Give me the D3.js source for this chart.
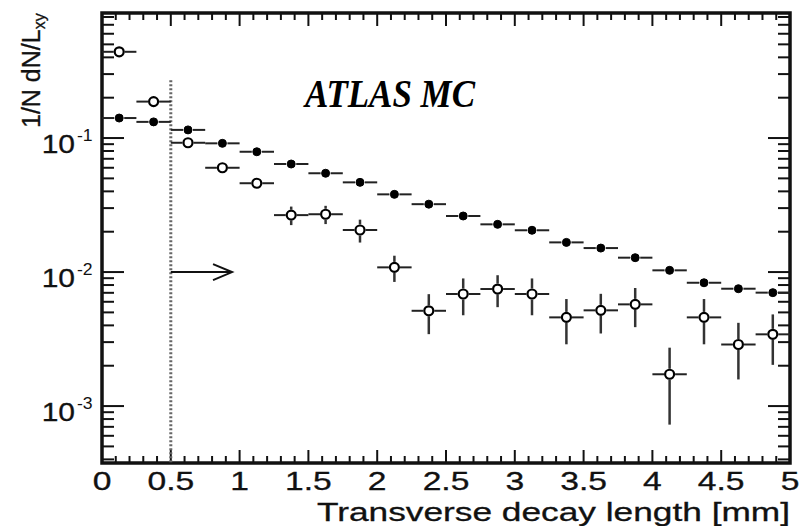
<!DOCTYPE html>
<html><head><meta charset="utf-8">
<script src="https://cdn.jsdelivr.net/npm/d3@7"></script>
<style>html,body{margin:0;padding:0;background:#fff;}svg{display:block;}</style>
</head><body>
<svg id="c" width="801" height="526"></svg>
<script>
// ---- data ----
const binCenters = [0.125,0.375,0.625,0.875,1.125,1.375,1.625,1.875,2.125,2.375,2.625,2.875,3.125,3.375,3.625,3.875,4.125,4.375,4.625,4.875];
const binHalfWidth = 0.125;
const filledVals = [0.141,0.132,0.115,0.0913,0.079,0.064,0.0546,0.0467,0.038,0.0321,0.0262,0.0227,0.0205,0.01665,0.0151,0.0128,0.0103,0.00832,0.00751,0.00702];
const filledErr  = [0.002,0.002,0.0018,0.0016,0.0015,0.0013,0.0012,0.0011,0.001,0.0009,0.0008,0.0008,0.0007,0.0007,0.0006,0.0006,0.0005,0.0005,0.0005,0.0005];
const openVals = [0.44,0.187,0.0922,0.060,0.046,0.0266,0.027,0.0206,0.01084,0.00514,0.00686,0.00747,0.00686,0.00459,0.00518,0.00574,0.001727,0.00459,0.00288,0.00343];
const openErr  = [0.008,0.005,0.004,0.004,0.004,0.0042,0.0042,0.004,0.0024,0.0017,0.0021,0.002,0.0021,0.0017,0.0017,0.00186,0.001,0.0017,0.0013,0.0014];
const xTickValues = [0,0.5,1,1.5,2,2.5,3,3.5,4,4.5,5];
const xTickLabels = ["0","0.5","1","1.5","2","2.5","3","3.5","4","4.5","5"];
const yTickValues = [0.1,0.01,0.001];
const yTickExps = ["-1","-2","-3"];
const cutX = 0.5, cutTop = 0.27;
const arrowY = 0.01, arrowEndX = 0.945;
const xTitle = "Transverse decay length [mm]";
const yTitleMain = "1/N dN/L", yTitleSub = "xy";
const label = "ATLAS MC";

// ---- layout ----
const L = 102, R = 790, T = 13, B = 463;
const x = d3.scaleLinear().domain([0,5]).range([L,R]);
const y = d3.scaleLog().domain([3.76e-4, 0.857]).range([B,T]);
const svg = d3.select("#c");
const ink = "#111";
const font = "Liberation Sans, Arial, sans-serif";

// minor ticks
const xMinor = d3.range(0,51).map(i=>i/10);
const yMinor = [];
[1e-4,1e-3,1e-2,1e-1].forEach(dec=>{for(let k=2;k<=9;k++){const v=k*dec; if(v>=y.domain()[0]&&v<=y.domain()[1]) yMinor.push(v);}});

const g = svg.append("g");
xMinor.forEach(v=>{
  const isMajor = xTickValues.some(t=>Math.abs(t-v)<1e-9);
  const len = isMajor?13:7;
  g.append("line").attr("x1",x(v)).attr("x2",x(v)).attr("y1",B).attr("y2",B-len).attr("stroke",ink).attr("stroke-width",2);
  g.append("line").attr("x1",x(v)).attr("x2",x(v)).attr("y1",T).attr("y2",T+len).attr("stroke",ink).attr("stroke-width",2);
});
yMinor.concat(yTickValues).forEach(v=>{
  const isMajor = yTickValues.includes(v);
  const len = isMajor?22:12;
  g.append("line").attr("x1",L).attr("x2",L+len).attr("y1",y(v)).attr("y2",y(v)).attr("stroke",ink).attr("stroke-width",2);
  g.append("line").attr("x1",R).attr("x2",R-len).attr("y1",y(v)).attr("y2",y(v)).attr("stroke",ink).attr("stroke-width",2);
});
g.append("rect").attr("x",L).attr("y",T).attr("width",R-L).attr("height",B-T).attr("fill","none").attr("stroke",ink).attr("stroke-width",3.5);

// x tick labels
xTickValues.forEach((v,i)=>{
  svg.append("text").attr("transform",`translate(${x(v)},${B+27}) scale(1.4,1.05)`)
    .attr("text-anchor","middle").attr("font-family",font)
    .attr("font-size",24).attr("fill",ink).attr("stroke",ink).attr("stroke-width",0.3).text(xTickLabels[i]);
});
// y tick labels
yTickValues.forEach((v,i)=>{
  const yy = y(v);
  svg.append("text").attr("transform",`translate(75,${yy+15}) scale(1.2,1.05)`)
    .attr("text-anchor","end").attr("font-family",font)
    .attr("font-size",25).attr("fill",ink).attr("stroke",ink).attr("stroke-width",0.3).text("10");
  svg.append("text").attr("transform",`translate(77,${yy+3}) scale(1.1,1)`)
    .attr("text-anchor","start").attr("font-family",font)
    .attr("font-size",16).attr("fill",ink).text(yTickExps[i]);
});
// axis titles
svg.append("text").attr("x",317).attr("y",521).attr("font-family",font)
  .attr("font-size",26).attr("fill",ink).attr("stroke",ink).attr("stroke-width",0.3)
  .attr("textLength",473).attr("lengthAdjust","spacingAndGlyphs").text(xTitle);
const yt = svg.append("text").attr("transform","translate(40,128) rotate(-90)")
  .attr("font-family",font).attr("font-size",25).attr("fill",ink).attr("stroke",ink).attr("stroke-width",0.3);
yt.append("tspan").text(yTitleMain);
yt.append("tspan").attr("font-size",16).attr("dy",5).text(yTitleSub);

// ATLAS MC
svg.append("text").attr("transform","translate(305,107) scale(1,1.08)").attr("font-family","Liberation Serif, Times New Roman, serif")
  .attr("font-weight","bold").attr("font-style","italic").attr("font-size",38).attr("fill","#000")
  .attr("textLength",170).attr("lengthAdjust","spacingAndGlyphs").text(label);

// cut line and arrow
svg.append("line").attr("x1",x(cutX)).attr("x2",x(cutX)).attr("y1",y(cutTop)).attr("y2",B)
  .attr("stroke","#666").attr("stroke-width",3).attr("stroke-dasharray","2,2");
svg.append("line").attr("x1",x(cutX)).attr("x2",x(arrowEndX)).attr("y1",y(arrowY)).attr("y2",y(arrowY))
  .attr("stroke",ink).attr("stroke-width",2);
svg.append("path").attr("d",`M${x(arrowEndX)-19},${y(arrowY)-8}L${x(arrowEndX)},${y(arrowY)}L${x(arrowEndX)-19},${y(arrowY)+8}`)
  .attr("fill","none").attr("stroke",ink).attr("stroke-width",2);

// data
function drawSeries(vals, errs, open){
  const r = open?4.5:4;
  const gap = r+1;
  const sg = svg.append("g");
  vals.forEach((v,i)=>{
    const c = binCenters[i];
    const cx = x(c), cy = y(v);
    const x0 = x(c-binHalfWidth), x1 = x(c+binHalfWidth);
    sg.append("line").attr("x1",x0).attr("x2",cx-gap).attr("y1",cy).attr("y2",cy).attr("stroke","#222").attr("stroke-width",2);
    sg.append("line").attr("x1",cx+gap).attr("x2",x1).attr("y1",cy).attr("y2",cy).attr("stroke","#222").attr("stroke-width",2);
    const yh = y(v+errs[i]), yl = y(Math.max(v-errs[i],1e-6));
    if (cy-gap > yh) sg.append("line").attr("x1",cx).attr("x2",cx).attr("y1",yh).attr("y2",cy-gap).attr("stroke","#333").attr("stroke-width",2.5);
    if (yl > cy+gap) sg.append("line").attr("x1",cx).attr("x2",cx).attr("y1",cy+gap).attr("y2",Math.min(yl,B)).attr("stroke","#333").attr("stroke-width",2.5);
    sg.append("circle").attr("cx",cx).attr("cy",cy).attr("r",r)
      .attr("fill",open?"#fff":"#000").attr("stroke","#000").attr("stroke-width",open?2.2:1);
  });
}
drawSeries(filledVals, filledErr, false);
drawSeries(openVals, openErr, true);
</script>
</body></html>
